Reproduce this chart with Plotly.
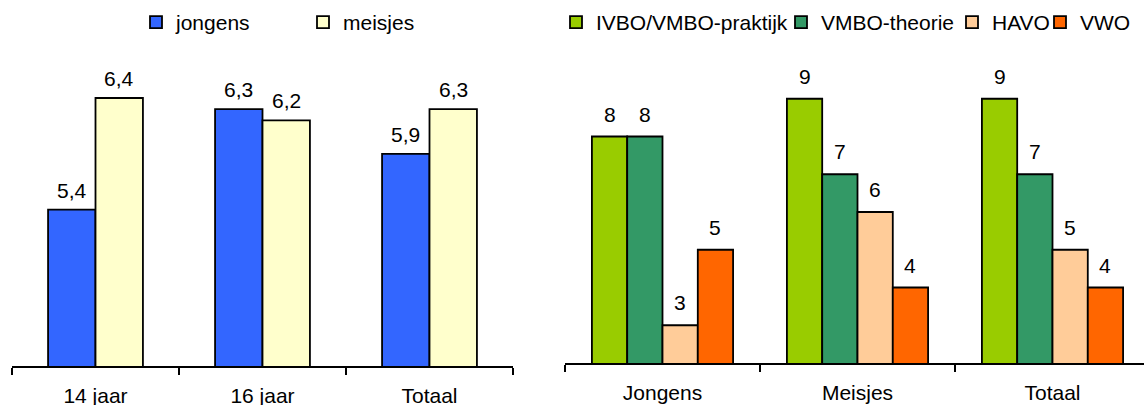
import plotly.graph_objects as go

# Left panel: boys vs girls by age
age_groups = ["14 jaar", "16 jaar", "Totaal"]
jongens = [5.4, 6.3, 5.9]
meisjes = [6.4, 6.2, 6.3]

# Right panel: by school type
gender_groups = ["Jongens", "Meisjes", "Totaal"]
ivbo_vmbo_praktijk = [8, 9, 9]
vmbo_theorie = [8, 7, 7]
havo = [3, 6, 5]
vwo = [5, 4, 4]

FONT = "Liberation Sans, Arial, sans-serif"
FS = 21
W, H = 1144, 405

fig = go.Figure()
outline = dict(color="black", width=1.8)
annotations = []

# bar width in category units for each panel
W_LEFT = 0.284
W_RIGHT = 0.181


def add_series(name, cats, vals, color, xa, ya, legend, width, offset, fmt, lift):
    fig.add_trace(go.Bar(
        name=name, x=cats, y=vals, xaxis=xa, yaxis=ya, legend=legend,
        width=width, offset=offset,
        marker=dict(color=color, line=outline),
        hoverinfo="x+y",
    ))
    # value labels above each bar
    for i, v in enumerate(vals):
        annotations.append(dict(
            x=i + offset + width / 2, y=v, xref=xa, yref=ya,
            text=fmt(v), showarrow=False, yanchor="bottom", yshift=lift,
            font=dict(size=FS, color="black", family=FONT),
        ))


dec1 = lambda v: f"{v:.1f}".replace(".", ",")
whole = lambda v: f"{v:g}"

add_series("jongens", age_groups, jongens, "#3366FF", "x", "y", "legend",
           W_LEFT, -W_LEFT, dec1, 6)
add_series("meisjes", age_groups, meisjes, "#FFFFCC", "x", "y", "legend2",
           W_LEFT, 0.0, dec1, 6)

right_series = [
    ("IVBO/VMBO-praktijk", ivbo_vmbo_praktijk, "#99CC00", "legend3"),
    ("VMBO-theorie", vmbo_theorie, "#339966", "legend4"),
    ("HAVO", havo, "#FFCC99", "legend5"),
    ("VWO", vwo, "#FF6600", "legend6"),
]
for k, (name, vals, color, leg) in enumerate(right_series):
    add_series(name, gender_groups, vals, color, "x2", "y2", leg,
               W_RIGHT, (k - 2) * W_RIGHT, whole, 9)

xcommon = dict(
    showline=True, linecolor="black", linewidth=1.8,
    ticks="outside", ticklen=7, tickwidth=1.8, tickcolor="black",
    tickson="boundaries", showgrid=False, zeroline=False,
    tickfont=dict(size=FS, color="black", family=FONT),
    ticklabelstandoff=10, automargin=False, fixedrange=True,
)
ycommon = dict(showticklabels=False, showgrid=False, zeroline=False,
               showline=False, ticks="", automargin=False, fixedrange=True)


def legend_at(px):
    return dict(orientation="h", x=px / W, y=1 - 22.5 / H, xanchor="left",
                yanchor="middle", font=dict(size=FS, family=FONT, color="black"),
                itemclick=False, bgcolor="rgba(0,0,0,0)", borderwidth=0)


fig.update_layout(
    width=W, height=H,
    margin=dict(l=0, r=0, t=0, b=0, autoexpand=False),
    paper_bgcolor="white", plot_bgcolor="white",
    barmode="overlay",
    font=dict(family=FONT, size=FS, color="black"),
    xaxis=dict(domain=[12 / W, 513 / W], range=[-0.5, 2.5], **xcommon),
    yaxis=dict(domain=[1 - 366 / H, 1 - 31 / H], range=[4, 7], **ycommon),
    xaxis2=dict(domain=[565 / W, 1.0], range=[-0.5, -0.5 + 579 / 195],
                anchor="y2", **xcommon),
    yaxis2=dict(domain=[1 - 363 / H, 1 - 61 / H], range=[2, 10],
                anchor="x2", **ycommon),
    legend=legend_at(136),
    legend2=legend_at(303),
    legend3=legend_at(556),
    legend4=legend_at(781),
    legend5=legend_at(952),
    legend6=legend_at(1040),
    showlegend=True,
    annotations=annotations,
)

fig.write_html("out.html")
